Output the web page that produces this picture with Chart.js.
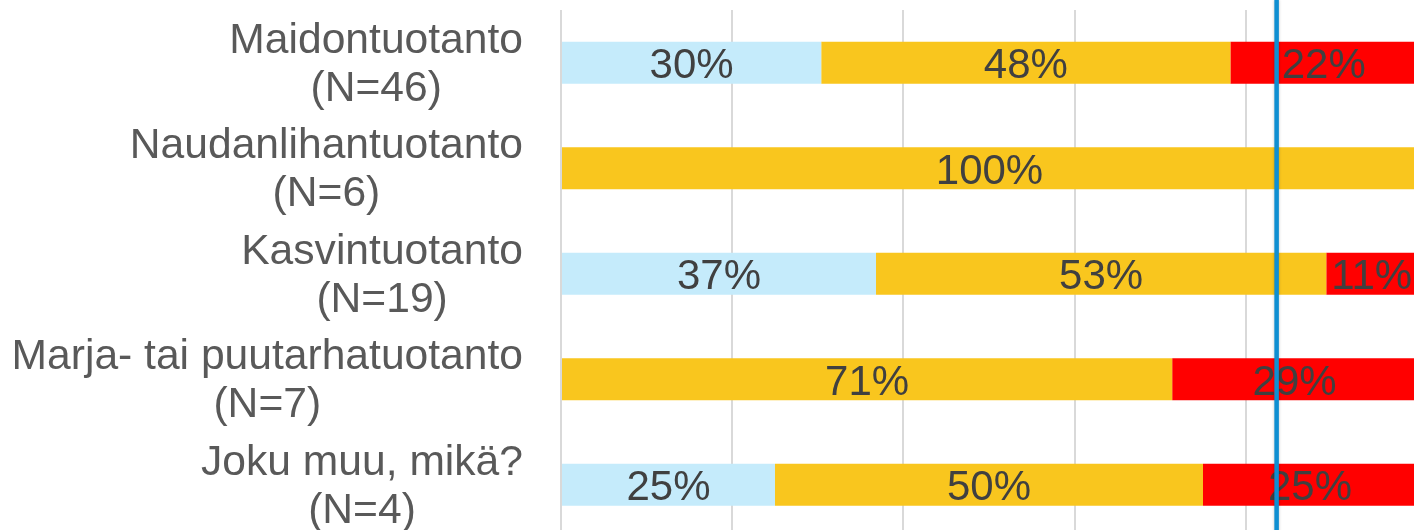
<!DOCTYPE html>
<html>
<head>
<meta charset="utf-8">
<script src="https://cdn.jsdelivr.net/npm/chart.js@4"></script>
<style>
  html, body { margin: 0; padding: 0; background: #ffffff; overflow: hidden; width: 1414px; height: 530px; }
  #wrap { position: absolute; left: 0; top: 0; width: 1420px; height: 540px; }
</style>
</head>
<body>
<div id="wrap"><canvas id="c" width="1420" height="540"></canvas></div>
<script>
// ---- data ----
const categories = [
  ["Maidontuotanto", "(N=46)"],
  ["Naudanlihantuotanto", "(N=6)"],
  ["Kasvintuotanto", "(N=19)"],
  ["Marja- tai puutarhatuotanto", "(N=7)"],
  ["Joku muu, mikä?", "(N=4)"]
];
const seriesNames = ["Sarja 1", "Sarja 2", "Sarja 3"];
const seriesA = [30.4, 0, 36.8, 0, 25];
const seriesB = [47.8, 100, 52.6, 71.4, 50];
const seriesC = [21.8, 0, 10.6, 28.6, 25];
const seriesColors = ["#C5EBFB", "#F9C61E", "#FF0000"];
const xTicks = [0, 20, 40, 60, 80, 100];
const markerValue = 83.6;

const FONT = '"Liberation Sans", Arial, sans-serif';

const yLabelPlugin = {
  id: 'yLabels',
  afterDraw(chart) {
    const ctx = chart.ctx;
    const ys = chart.scales.y;
    const right = chart.chartArea.left - 38;
    ctx.save();
    ctx.font = '42.6px ' + FONT;
    ctx.fillStyle = '#595959';
    ctx.textAlign = 'center';
    ctx.textBaseline = 'alphabetic';
    categories.forEach((lines, i) => {
      const y = ys.getPixelForValue(i);
      const maxW = Math.max(...lines.map(l => ctx.measureText(l).width));
      const cx = right - maxW / 2;
      const n = lines.length;
      lines.forEach((l, j) => {
        ctx.fillText(l, cx, y + (j - (n - 1) / 2) * 48 + 14);
      });
    });
    ctx.restore();
  }
};

const valueLabelPlugin = {
  id: 'valueLabels',
  afterDatasetsDraw(chart) {
    const ctx = chart.ctx;
    ctx.save();
    ctx.font = '42px ' + FONT;
    ctx.fillStyle = '#404040';
    ctx.textAlign = 'center';
    ctx.textBaseline = 'alphabetic';
    chart.data.datasets.forEach((ds, di) => {
      const meta = chart.getDatasetMeta(di);
      meta.data.forEach((bar, i) => {
        const v = ds.data[i];
        if (!v) return;
        const cx = (bar.x + bar.base) / 2;
        ctx.fillText(Math.round(v) + '%', cx, bar.y + 15.5);
      });
    });
    ctx.restore();
  }
};

const markerPlugin = {
  id: 'marker',
  afterDraw(chart) {
    const ctx = chart.ctx;
    const x = chart.scales.x.getPixelForValue(markerValue);
    ctx.save();
    ctx.shadowColor = 'rgba(0,0,0,0.25)';
    ctx.shadowBlur = 3;
    ctx.strokeStyle = '#0F8FD2';
    ctx.lineWidth = 4.5;
    ctx.beginPath();
    ctx.moveTo(x, 0);
    ctx.lineTo(x, chart.height);
    ctx.stroke();
    ctx.restore();
  }
};

new Chart(document.getElementById('c'), {
  type: 'bar',
  data: {
    labels: categories,
    datasets: [
      { label: seriesNames[0], data: seriesA, backgroundColor: seriesColors[0] },
      { label: seriesNames[1], data: seriesB, backgroundColor: seriesColors[1] },
      { label: seriesNames[2], data: seriesC, backgroundColor: seriesColors[2] }
    ]
  },
  options: {
    indexAxis: 'y',
    responsive: false,
    animation: false,
    devicePixelRatio: 1,
    layout: { padding: { left: 561, right: 3, top: 10, bottom: 2.5 } },
    datasets: { bar: { barPercentage: 0.4, categoryPercentage: 1.0, borderWidth: 0 } },
    plugins: { legend: { display: false }, tooltip: { enabled: false } },
    scales: {
      x: {
        stacked: true,
        min: 0, max: 100,
        afterBuildTicks(scale) { scale.ticks = xTicks.map(v => ({ value: v })); },
        ticks: { display: false },
        border: { display: false },
        grid: { color: '#D9D9D9', lineWidth: 2, drawTicks: false }
      },
      y: {
        stacked: true,
        display: false
      }
    }
  },
  plugins: [valueLabelPlugin, yLabelPlugin, markerPlugin]
});
</script>
</body>
</html>
